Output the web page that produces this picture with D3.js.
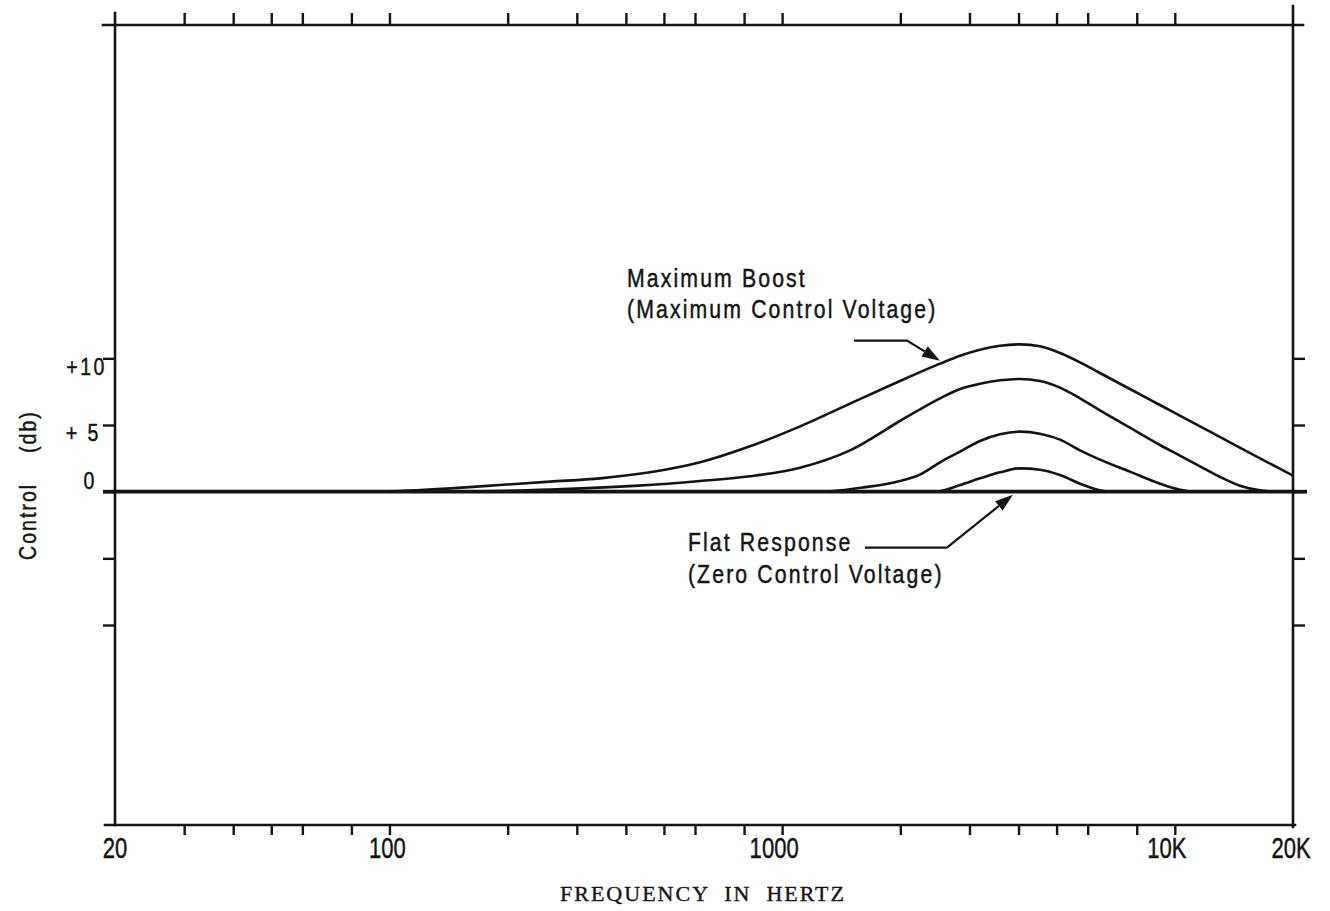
<!DOCTYPE html>
<html><head><meta charset="utf-8">
<script src="https://cdn.jsdelivr.net/npm/d3@7"></script>
<style>body{margin:0;background:#fff} svg{display:block}</style>
</head><body><svg id="c" width="1330" height="911"></svg>
<script>
// ---------- data ----------
const xTickValues = [30,40,50,60,80,100,200,300,400,500,600,800,1000,2000,3000,4000,5000,6000,8000,10000];
const xLabelValues = [20,100,1000,10000,20000];
const xLabelTexts = ["20","100","1000","10K","20K"];
const yTickValues = [10,5,0,-5,-10];
const yLabelValues = [10,5,0];
const yLabelTexts = ["+10","+ 5","0"];
const flatResponse = [[20,0],[20000,0]];
// [frequency Hz, control dB]
const boostMax = [[20,0],[80,0],[106,0.05],[143,0.25],[191,0.5],[256,0.75],[344,1.0],[461,1.45],[618,2.2],[828,3.4],[1111,4.9],[1489,6.6],[1996,8.3],[2524,9.6],[2838,10.2],[3190,10.65],[3589,10.95],[4034,11.05],[4535,10.9],[5100,10.4],[5735,9.7],[6447,8.9],[7686,7.7],[9166,6.5],[11592,4.9],[13822,3.7],[16483,2.5],[20000,1.2]];
const boost3 = [[20,0],[150,0],[256,0.15],[430,0.45],[618,0.8],[828,1.15],[1111,1.8],[1489,3.1],[1996,5.3],[2524,7.0],[2838,7.7],[3190,8.1],[3589,8.35],[4034,8.45],[4535,8.3],[5100,7.8],[5735,7.0],[6447,6.1],[7686,4.8],[9166,3.5],[10307,2.7],[11592,1.9],[13040,1.1],[14650,0.45],[16483,0.1],[18000,0],[20000,0]];
const boost2 = [[20,0],[1260,0],[1590,0.3],[1996,0.8],[2250,1.3],[2524,2.2],[2838,3.0],[3190,3.8],[3589,4.3],[4034,4.5],[4535,4.35],[5100,3.9],[5735,3.1],[6447,2.4],[7686,1.5],[9166,0.6],[10307,0.15],[11200,0],[20000,0]];
const boost1 = [[20,0],[2460,0],[2838,0.5],[3190,1.0],[3589,1.45],[4034,1.75],[4535,1.65],[5100,1.25],[5735,0.6],[6260,0.2],[6830,0],[20000,0]];
const boostCurves = [boostMax, boost3, boost2, boost1];
const annotMaxLines = ["Maximum Boost","(Maximum Control Voltage)"];
const annotMaxAnchor = [2524, 9.6];
const annotFlatLines = ["Flat Response","(Zero Control Voltage)"];
const annotFlatAnchor = [3870, 0];
const yTitleParts = ["Control","(db)"];
const xTitle = "FREQUENCY  IN  HERTZ";

// ---------- layout ----------
const ink = "#141414";
const svg = d3.select("#c");
const x = d3.scaleLog().domain([20,20000]).range([115,1293]);
const y = d3.scaleLinear().domain([-25,35]).range([825,25]);
const X0 = x(20), X1 = x(20000), Y0 = y(-25), Y1 = y(35);
const sans = "'Liberation Sans',Arial,sans-serif";

// condensed text helper
function ctext(parent, px, py, str, o){
  const gg = parent.append("g").attr("transform",`translate(${px},${py})${o.rot?` rotate(${o.rot})`:""} scale(${o.sx||1},1)`);
  gg.append("text").attr("x",0).attr("y",0).attr("text-anchor",o.anchor||"start")
    .attr("font-family",o.family||sans).attr("font-size",o.size)
    .attr("letter-spacing",o.ls||0).attr("fill",ink)
    .attr("stroke",ink).attr("stroke-width",o.sw==null?0.45:o.sw)
    .attr("xml:space","preserve").style("white-space","pre").text(str);
  return gg;
}

// frame
const g = svg.append("g").attr("stroke", ink).attr("fill","none").attr("stroke-width",2.6).attr("stroke-linecap","square");
g.append("line").attr("x1",X0-12).attr("x2",X1+10).attr("y1",Y1).attr("y2",Y1);
g.append("line").attr("x1",X0-10).attr("x2",X1+2).attr("y1",Y0).attr("y2",Y0);
g.append("line").attr("x1",X0).attr("x2",X0).attr("y1",Y1-12).attr("y2",Y0);
g.append("line").attr("x1",X1).attr("x2",X1).attr("y1",Y1-19).attr("y2",Y0+2);

// axes ticks via d3 axes
function styleAxis(sel){
  sel.select(".domain").remove();
  sel.selectAll(".tick line").attr("stroke",ink).attr("stroke-width",2.4);
  sel.selectAll(".tick text").remove();
}
svg.append("g").attr("transform",`translate(0,${Y1})`)
  .call(d3.axisTop(x).tickValues(xTickValues).tickSize(12).tickFormat("")).call(styleAxis);
svg.append("g").attr("transform",`translate(0,${Y0})`)
  .call(d3.axisBottom(x).tickValues(xTickValues).tickSize(10).tickFormat("")).call(styleAxis);
svg.append("g").attr("transform",`translate(${X0},0)`)
  .call(d3.axisLeft(y).tickValues(yTickValues).tickSize(12).tickFormat("")).call(styleAxis);
svg.append("g").attr("transform",`translate(${X1},0)`)
  .call(d3.axisRight(y).tickValues(yTickValues).tickSize(12).tickFormat("")).call(styleAxis);

// x labels
const xLabelDx = [0,-2,-8,-8,-2];
const xl = svg.append("g");
xLabelValues.forEach((d,i)=>ctext(xl, x(d)+xLabelDx[i], Y0+33, xLabelTexts[i], {size:29, sx:0.76, anchor:"middle"}));

// y labels
const yLabelDy = [17,16,-3];
const yLabelRight = [107,101,97];
const yl = svg.append("g");
yLabelValues.forEach((d,i)=>ctext(yl, yLabelRight[i], y(d)+yLabelDy[i], yLabelTexts[i], {size:23, sx:0.85, ls:3, anchor:"end"}));

// y title
ctext(svg, 36, 560, yTitleParts[0], {size:23, sx:0.85, ls:2.4, rot:-90});
ctext(svg, 36, 453, yTitleParts[1], {size:23, sx:0.85, ls:2.4, rot:-90});

// x title
ctext(svg, 703, 901, xTitle, {size:22, ls:2, anchor:"middle", sw:0.35, family:"'Liberation Serif','DejaVu Serif',serif"});

// curves
const line = d3.line().x(d=>x(d[0])).y(d=>y(d[1])).curve(d3.curveMonotoneX);
svg.append("path").datum(flatResponse).attr("d",d3.line().x(d=>x(d[0])).y(d=>y(d[1])))
  .attr("fill","none").attr("stroke",ink).attr("stroke-width",3.6);
svg.append("line").attr("x1",X0-12).attr("x2",X0).attr("y1",y(0)).attr("y2",y(0)).attr("stroke",ink).attr("stroke-width",3.6);
svg.append("line").attr("x1",X1).attr("x2",X1+14).attr("y1",y(0)).attr("y2",y(0)).attr("stroke",ink).attr("stroke-width",3.6);
svg.append("g").selectAll("path").data(boostCurves).join("path")
  .attr("d",line).attr("fill","none").attr("stroke",ink).attr("stroke-width",2.6)
  .attr("stroke-linejoin","round");

// annotations
function arrow(tip, pts){
  const p = pts.map(([dx,dy])=>[tip[0]+dx, tip[1]+dy]);
  const last = p[p.length-1];
  const vx = tip[0]-last[0], vy = tip[1]-last[1], L = Math.hypot(vx,vy);
  const ux = vx/L, uy = vy/L, hl = 18, hw = 6;
  const base = [tip[0]-ux*hl, tip[1]-uy*hl];
  svg.append("path").attr("d", d3.line()([...p, base])).attr("fill","none").attr("stroke",ink).attr("stroke-width",2.2);
  svg.append("path").attr("d", d3.line()([tip,[base[0]-uy*hw, base[1]+ux*hw],[base[0]+uy*hw, base[1]-ux*hw]])+"Z").attr("fill",ink);
}
function label(lines, x0, y0s){
  lines.forEach((t,i)=>ctext(svg, x0, y0s[i], t, {size:25, sx:0.85, ls:2.5}));
}
const tipMax = [x(annotMaxAnchor[0]), y(annotMaxAnchor[1])-3];
arrow(tipMax, [[-86,-20],[-33,-20]]);
label(annotMaxLines, tipMax[0]-313, [tipMax[1]-74, tipMax[1]-43]);
const tipFlat = [x(annotFlatAnchor[0]), y(annotFlatAnchor[1])+3];
arrow(tipFlat, [[-148,53],[-66,53]]);
label(annotFlatLines, tipFlat[0]-325, [tipFlat[1]+56, tipFlat[1]+88]);
</script></body></html>
